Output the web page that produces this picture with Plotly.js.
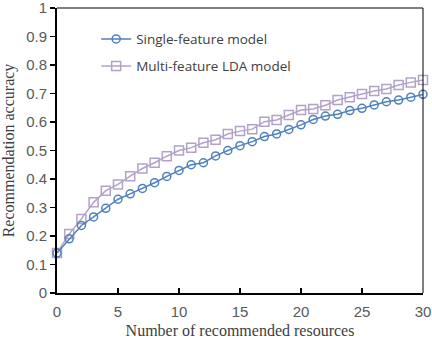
<!DOCTYPE html>
<html>
<head>
<meta charset="utf-8">
<script src="https://cdn.plot.ly/plotly-3.0.1.min.js"></script>
<style>html,body{margin:0;padding:0;background:#fff}#chart{width:432px;height:343px}</style>
</head>
<body>
<div id="chart"></div>
<script>
const resources = [0,1,2,3,4,5,6,7,8,9,10,11,12,13,14,15,16,17,18,19,20,21,22,23,24,25,26,27,28,29,30];
const singleFeature = [0.14,0.19,0.237,0.267,0.297,0.329,0.348,0.367,0.387,0.409,0.43,0.45,0.457,0.481,0.5,0.517,0.531,0.549,0.558,0.574,0.59,0.609,0.621,0.627,0.64,0.648,0.66,0.671,0.677,0.687,0.697];
const multiFeatureLDA = [0.14,0.207,0.26,0.318,0.359,0.381,0.41,0.437,0.457,0.48,0.5,0.51,0.527,0.538,0.558,0.568,0.575,0.601,0.607,0.625,0.642,0.646,0.659,0.677,0.687,0.698,0.709,0.716,0.73,0.739,0.747];
const seriesNames = ["Single-feature model", "Multi-feature LDA model"];
const xTitle = "Number of recommended resources";
const yTitle = "Recommendation accuracy";
const xTicks = [0, 5, 10, 15, 20, 25, 30];
const yTicks = [0, 0.1, 0.2, 0.3, 0.4, 0.5, 0.6, 0.7, 0.8, 0.9, 1];
const yTickText = ["0", "0.1", "0.2", "0.3", "0.4", "0.5", "0.6", "0.7", "0.8", "0.9", "1"];

const blue = "#4F81BD";
const purple = "#B3A2C7";

const traces = [
  {x: resources, y: multiFeatureLDA, name: seriesNames[1], type: "scatter", mode: "lines+markers",
   line: {color: purple, width: 1.5}, marker: {symbol: "square-open", size: 9, color: purple, line: {width: 1.5}},
   cliponaxis: false, legend: "legend2"},
  {x: resources, y: singleFeature, name: seriesNames[0], type: "scatter", mode: "lines+markers",
   line: {color: blue, width: 1.5}, marker: {symbol: "circle-open", size: 8, color: blue, line: {width: 1.5}},
   cliponaxis: false, legend: "legend"}
];

const tickFont = {family: "Liberation Sans, Arial, sans-serif", size: 15, color: "#595959"};
const titleFont = {family: "Liberation Serif, Times New Roman, serif", size: 16, color: "#404040"};
const legendFont = {family: "Open Sans, Liberation Sans, sans-serif", size: 13.5, color: "#404040"};

const layout = {
  width: 432, height: 343,
  margin: {l: 57, r: 9, t: 8, b: 50},
  paper_bgcolor: "#fff", plot_bgcolor: "#fff",
  showlegend: true,
  xaxis: {range: [0, 30], tickmode: "array", tickvals: xTicks, ticks: "inside", ticklen: 5, tickcolor: "#000", tickwidth: 1.5,
          showline: true, linecolor: "#000", linewidth: 2, showgrid: false, zeroline: false, ticklabelstandoff: 4,
          ticklabeloverflow: "allow",
          tickfont: tickFont, title: {text: xTitle, font: titleFont, standoff: 6}},
  yaxis: {range: [0, 1], tickmode: "array", tickvals: yTicks, ticktext: yTickText, ticks: "outside", ticklen: 5, tickcolor: "#000", tickwidth: 1.5,
          showline: true, linecolor: "#000", linewidth: 2, showgrid: false, zeroline: false,
          ticklabeloverflow: "allow",
          tickfont: tickFont, title: {text: yTitle, font: titleFont, standoff: 10}},
  legend: {x: 0.107, y: 0.945, xanchor: "left", yanchor: "top", bgcolor: "rgba(0,0,0,0)", font: legendFont},
  legend2: {x: 0.107, y: 0.850, xanchor: "left", yanchor: "top", bgcolor: "rgba(0,0,0,0)", font: legendFont},
  shapes: [
    {type: "line", xref: "paper", yref: "paper", x0: 0, x1: 1, y0: 1, y1: 1, line: {color: "#000", width: 1}},
    {type: "line", xref: "paper", yref: "paper", x0: 1, x1: 1, y0: 0, y1: 1, line: {color: "#000", width: 1}}
  ]
};

Plotly.newPlot("chart", traces, layout, {displayModeBar: false, staticPlot: true});
</script>
</body>
</html>
